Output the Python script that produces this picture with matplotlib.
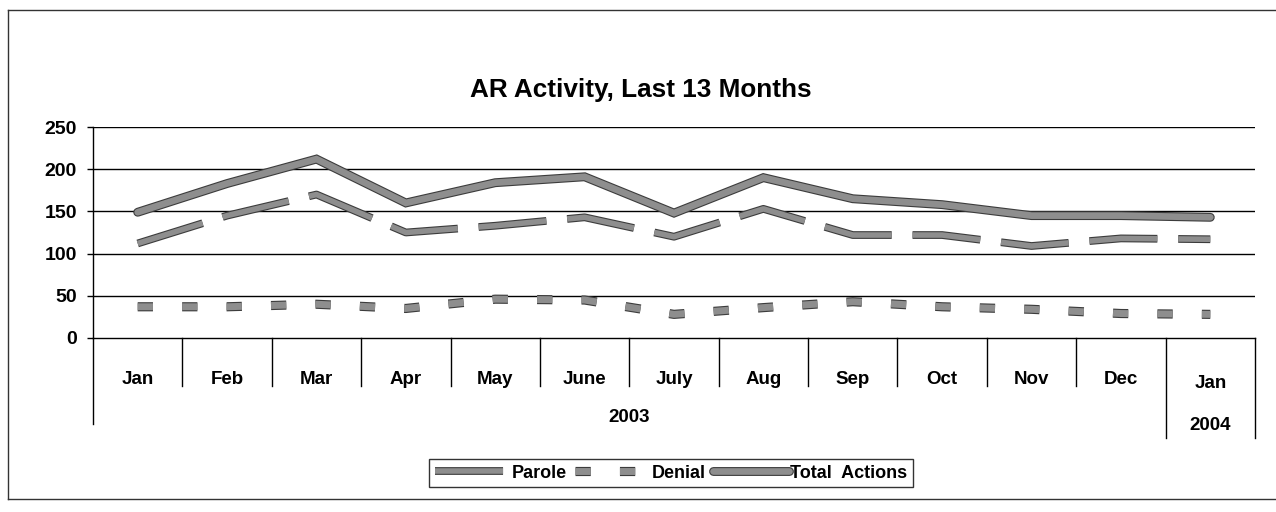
import matplotlib
matplotlib.use("Agg")
import matplotlib.pyplot as plt
import matplotlib.patheffects as pe
from matplotlib.lines import Line2D
import numpy as np

months = ['Jan', 'Feb', 'Mar', 'Apr', 'May', 'June', 'July', 'Aug', 'Sep', 'Oct', 'Nov', 'Dec', 'Jan']
years = ['2003', '2004']
year_spans = [(0, 11), (12, 12)]
parole = [112, 145, 170, 125, 133, 143, 120, 153, 122, 122, 109, 118, 117]
denial = [37, 37, 40, 35, 46, 45, 28, 36, 43, 37, 34, 29, 28]
total = [149, 183, 212, 160, 184, 191, 148, 190, 165, 158, 145, 145, 143]
yticks = [0, 50, 100, 150, 200, 250]
title = 'AR Activity, Last 13 Months'

plt.rcParams['font.family'] = ['Liberation Sans', 'DejaVu Sans']
plt.rcParams['lines.scale_dashes'] = False

W, H = 1276, 512
fig = plt.figure(figsize=(W / 100, H / 100), dpi=100)
fig.patch.set_facecolor('white')

L, R, T, B = 93, 1255, 127, 338
ax = fig.add_axes([L / W, 1 - B / H, (R - L) / W, (B - T) / H])
ax.set_xlim(-0.5, len(months) - 0.5)
ax.set_ylim(0, 250)
ax.set_yticks(yticks)
ax.set_yticklabels([str(v) for v in yticks], fontsize=14, fontweight='bold')
ax.tick_params(axis='y', length=4.5, width=1, pad=7, direction='out')
ax.set_xticks([])
for s in ['top', 'right']:
    ax.spines[s].set_visible(False)
ax.spines['left'].set_linewidth(1.0)
ax.spines['bottom'].set_linewidth(1.0)
for v in yticks[1:]:
    ax.axhline(v, color='black', lw=1.0, zorder=1)

face = '#8e8e8e'
edge = '#3c3c3c'
x = np.arange(len(months))

def fx(lw):
    return [pe.Stroke(linewidth=lw + 1.6, foreground=edge), pe.Normal()]

lp, = ax.plot(x, parole, color=face, lw=4.0, dashes=(49, 15), dash_capstyle='butt',
              solid_joinstyle='miter', path_effects=fx(4.0), zorder=3, label='Parole')
ld, = ax.plot(x, denial, color=face, lw=5.0, dashes=(11, 21), dash_capstyle='butt',
              path_effects=fx(5.0), zorder=3, label='Denial')
lt, = ax.plot(x, total, color=face, lw=4.8, solid_capstyle='round',
              solid_joinstyle='miter', path_effects=fx(4.8), zorder=4, label='Total  Actions')

# category axis table
trans = ax.get_xaxis_transform()
ax_h = B - T
def yfrac(py):
    return (B - py) / ax_h

for i in range(len(months) - 1):
    xb = i + 0.5
    if i == 11:
        ax.plot([xb, xb], [0, yfrac(438)], color='black', lw=1.0, transform=trans, clip_on=False)
    else:
        ax.plot([xb, xb], [0, yfrac(386)], color='black', lw=1.0, transform=trans, clip_on=False)
ax.plot([-0.5, -0.5], [0, yfrac(424)], color='black', lw=1.0, transform=trans, clip_on=False)
ax.plot([12.5, 12.5], [0, yfrac(438)], color='black', lw=1.0, transform=trans, clip_on=False)

for i, m in enumerate(months):
    yy = 379 if i < 12 else 383
    ax.text(i, yfrac(yy), m, transform=trans, ha='center', va='center',
            fontsize=13.5, fontweight='bold')
for (a, b), yr in zip(year_spans, years):
    yy = 418 if a == 0 else 425
    ax.text((a + b) / 2, yfrac(yy), yr, transform=trans, ha='center', va='center',
            fontsize=13.5, fontweight='bold')

fig.text(641 / W, 1 - 90 / H, title, ha='center', va='center', fontsize=18.8, fontweight='bold')

# outer frame
fig.add_artist(Line2D([8 / W, 8 / W], [1 - 10 / H, 1 - 499 / H], color='#333333', lw=1.0))
fig.add_artist(Line2D([8 / W, 1.0], [1 - 10 / H, 1 - 10 / H], color='#333333', lw=1.0))
fig.add_artist(Line2D([8 / W, 1.0], [1 - 499 / H, 1 - 499 / H], color='#333333', lw=1.0))

leg = fig.legend(handles=[lp, ld, lt], loc='center', bbox_to_anchor=(671 / W, 1 - 473 / H),
                 ncol=3, frameon=True, fancybox=False, edgecolor='black',
                 handlelength=4.2, handletextpad=0.05, columnspacing=0.45, borderpad=0.3,
                 prop={'weight': 'bold', 'size': 13})
leg.get_frame().set_linewidth(1.0)

fig.savefig('out.png', dpi=100, facecolor='white')
